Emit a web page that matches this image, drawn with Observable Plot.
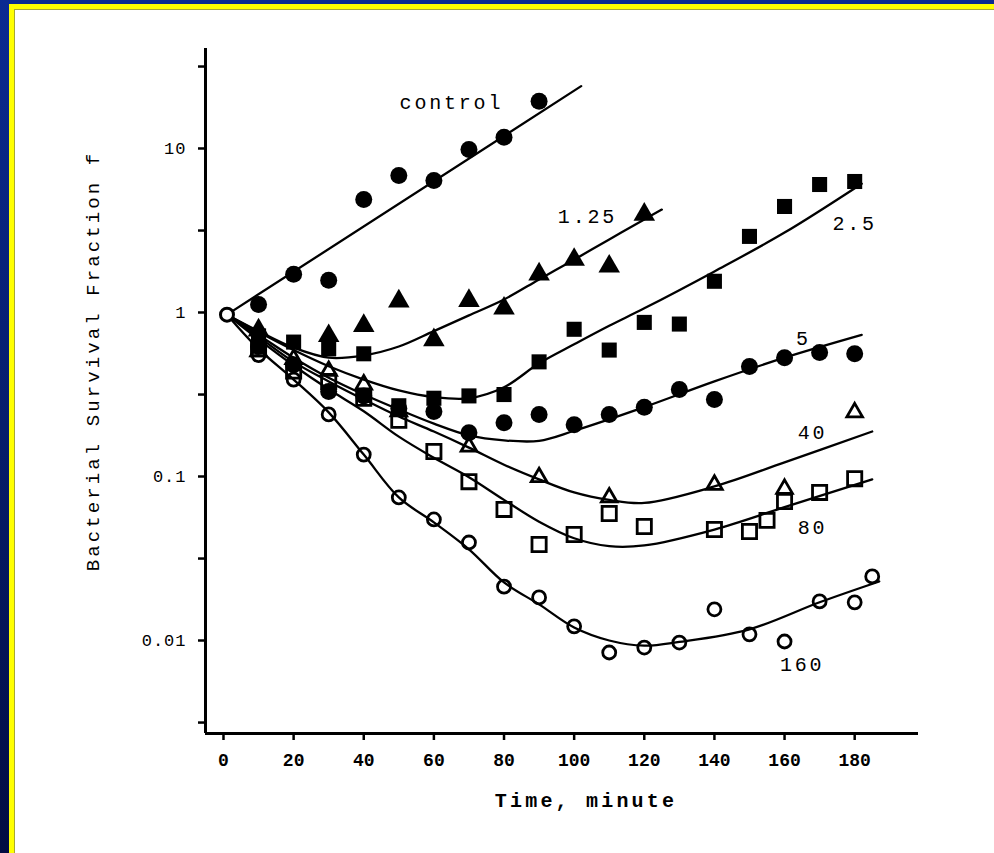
<!DOCTYPE html>
<html>
<head>
<meta charset="utf-8">
<script src="https://cdn.jsdelivr.net/npm/d3@7"></script>
<script src="https://cdn.jsdelivr.net/npm/@observablehq/plot@0.6"></script>
<style>
  html, body { margin: 0; padding: 0; background: #fff; width: 994px; height: 853px; overflow: hidden; }
  .band { position: absolute; }
  #chart { position: absolute; left: 0; top: 0; }
  g[aria-description="series-labels"] text { letter-spacing: 2.8px; }
  g[aria-description="y-title"] text { letter-spacing: 3.1px; }
  g[aria-description="x-title"] text { letter-spacing: 3.2px; }
  g[aria-label="y-axis tick label"] text { letter-spacing: 1px; }
</style>
</head>
<body>
<div class="band" style="left:0;top:0;width:994px;height:4px;background:#0b2a90"></div>
<div class="band" style="left:0;top:0;width:9px;height:853px;background:linear-gradient(#0b2a92,#061d6c 50%,#020c42)"></div>
<div class="band" style="left:9px;top:4px;width:985px;height:5px;background:#ffff00"></div>
<div class="band" style="left:9px;top:4px;width:5px;height:849px;background:#ffff00"></div>
<div class="band" style="left:14px;top:9px;width:980px;height:1px;background:#a8a830"></div>
<div class="band" style="left:14px;top:9px;width:1px;height:844px;background:#a8a830"></div>
<div id="chart"></div>
<script>
// ---- data (time in minutes, survival fraction f) ----
const seriesNames = ["control", "1.25", "2.5", "5", "40", "80", "160"];
const startPoint = [[1, 0.97]];

const controlPts = [[10,1.12],[20,1.71],[30,1.57],[40,4.89],[50,6.84],[60,6.38],[70,9.86],[80,11.7],[90,19.4]];
const p125Pts = [[10,0.78],[30,0.72],[40,0.83],[50,1.17],[60,0.68],[70,1.18],[80,1.06],[90,1.71],[100,2.10],[110,1.91],[120,3.96]];
const p25Pts = [[10,0.72],[20,0.66],[30,0.6],[40,0.56],[50,0.27],[60,0.30],[70,0.31],[80,0.316],[90,0.50],[100,0.79],[110,0.59],[120,0.87],[130,0.85],[140,1.55],[150,2.91],[160,4.43],[170,6.03],[180,6.29]];
const p5Pts = [[10,0.62],[20,0.48],[30,0.33],[40,0.31],[50,0.26],[60,0.249],[70,0.185],[80,0.213],[90,0.239],[100,0.207],[110,0.239],[120,0.264],[130,0.339],[140,0.295],[150,0.469],[160,0.53],[170,0.57],[180,0.56]];
const p40Pts = [[10,0.58],[20,0.52],[30,0.44],[40,0.364],[50,0.25],[70,0.152],[90,0.099],[110,0.0745],[140,0.089],[160,0.084],[180,0.246]];
const p80Pts = [[10,0.6],[20,0.44],[30,0.38],[40,0.30],[50,0.22],[60,0.142],[70,0.093],[80,0.063],[90,0.0385],[100,0.0443],[110,0.0595],[120,0.0496],[140,0.0475],[150,0.0462],[155,0.054],[160,0.0704],[170,0.080],[180,0.097]];
const p160Pts = [[10,0.55],[20,0.39],[30,0.239],[40,0.136],[50,0.0745],[60,0.0547],[70,0.0396],[80,0.0213],[90,0.0183],[100,0.0122],[110,0.00845],[120,0.00906],[130,0.00972],[140,0.0155],[150,0.0109],[160,0.00986],[170,0.0173],[180,0.0171],[185,0.0246]];

const controlCurve = [[1,0.97],[102,24]];
const c125Curve = [[1,0.97],[10,0.77],[20,0.61],[30,0.53],[40,0.547],[50,0.62],[60,0.77],[70,0.96],[80,1.2],[90,1.59],[100,2.1],[110,2.79],[120,3.69],[125,4.24]];
const c25Curve = [[1,0.97],[10,0.76],[20,0.59],[30,0.47],[40,0.39],[50,0.335],[60,0.305],[70,0.30],[80,0.35],[90,0.49],[100,0.64],[110,0.83],[120,1.06],[140,1.78],[160,3.07],[182,6.1]];
const c5Curve = [[1,0.97],[10,0.73],[20,0.53],[30,0.40],[40,0.316],[50,0.256],[60,0.21],[70,0.178],[80,0.166],[90,0.165],[100,0.19],[120,0.265],[140,0.38],[160,0.53],[182,0.73]];
const c40Curve = [[1,0.97],[10,0.71],[20,0.50],[30,0.38],[40,0.295],[50,0.232],[60,0.188],[70,0.150],[80,0.118],[90,0.096],[100,0.080],[110,0.072],[120,0.069],[140,0.087],[160,0.122],[185,0.188]];
const c80Curve = [[1,0.97],[10,0.685],[20,0.475],[30,0.34],[40,0.25],[50,0.175],[60,0.13],[70,0.099],[80,0.072],[90,0.053],[100,0.042],[110,0.0376],[120,0.038],[140,0.0475],[160,0.065],[185,0.096]];
const c160Curve = [[1,0.97],[10,0.6],[20,0.39],[30,0.246],[40,0.136],[50,0.0745],[60,0.0525],[70,0.036],[80,0.0226],[90,0.0166],[100,0.012],[110,0.01],[120,0.0093],[130,0.0098],[150,0.0117],[170,0.0171],[187,0.0229]];

const labelTexts = ["control", "1.25", "2.5", "5", "40", "80", "160"];
const labelT = [65, 103.8, 180, 165.4, 168, 168, 165];
const labelF = [19.1, 3.85, 3.49, 0.694, 0.185, 0.0489, 0.00714];

const xTicks = [0, 20, 40, 60, 80, 100, 120, 140, 160, 180];
const yTicks = [0.00316, 0.01, 0.0316, 0.1, 0.316, 1, 3.16, 10, 31.6];
const yTickLabels = ["", "0.01", "", "0.1", "", "1", "", "10", ""];
const xTitle = "Time, minute";
const yTitle = "Bacterial Survival Fraction f";

// ---- build tables ----
const pointSets = [controlPts, p125Pts, p25Pts, p5Pts, p40Pts, p80Pts, p160Pts];
const curveSets = [controlCurve, c125Curve, c25Curve, c5Curve, c40Curve, c80Curve, c160Curve];
const rows = (sets) => sets.flatMap((s, i) => s.map(([t, f]) => ({series: seriesNames[i], t, f})));
const pts = rows(pointSets);
const curves = rows(curveSets);
const labels = labelTexts.map((text, i) => ({text, t: labelT[i], f: labelF[i]}));
const of = (name) => pts.filter(d => d.series === name);

const xDomain = [-5.13, 198.2];
const yDomain = [0.00271, 40.7];
const FONT = "'Liberation Mono', 'DejaVu Sans Mono', monospace";

const chart = Plot.plot({
  width: 994,
  height: 853,
  marginLeft: 205,
  marginRight: 76,
  marginTop: 48,
  marginBottom: 120,
  style: {background: "transparent", fontFamily: FONT, color: "black", overflow: "visible"},
  x: {domain: xDomain, label: null},
  y: {type: "log", domain: yDomain, label: null},
  marks: [
    Plot.ruleX([xDomain[0]], {stroke: "black", strokeWidth: 3}),
    Plot.ruleY([yDomain[0]], {stroke: "black", strokeWidth: 3}),
    Plot.axisY({ticks: yTicks, tickFormat: (d) => yTickLabels[yTicks.indexOf(d)], tickSize: 7, tickPadding: 12,
      fontSize: 17, strokeWidth: 2.5, label: null, anchor: "left"}),
    Plot.axisX({ticks: xTicks, tickSize: 7, tickPadding: 13, fontSize: 18, fontWeight: "bold",
      strokeWidth: 2.5, label: null, anchor: "bottom"}),
    Plot.line(curves, {x: "t", y: "f", z: "series", curve: "catmull-rom", stroke: "black", strokeWidth: 2.3}),
    Plot.dot(of("control"), {x: "t", y: "f", symbol: "circle", r: 8.5, fill: "black"}),
    Plot.dot(of("5"), {x: "t", y: "f", symbol: "circle", r: 8.5, fill: "black"}),
    Plot.dot(of("1.25"), {x: "t", y: "f", symbol: "triangle", r: 8, fill: "black"}),
    Plot.dot(of("2.5"), {x: "t", y: "f", symbol: "square", r: 8.5, fill: "black"}),
    Plot.dot(of("40"), {x: "t", y: "f", symbol: "triangle", r: 5.8, fill: "none", stroke: "black", strokeWidth: 2.8}),
    Plot.dot(of("80"), {x: "t", y: "f", symbol: "square", r: 8, fill: "none", stroke: "black", strokeWidth: 2.8}),
    Plot.dot(of("160"), {x: "t", y: "f", symbol: "circle", r: 6.5, fill: "none", stroke: "black", strokeWidth: 2.8}),
    Plot.dot(startPoint, {x: d => d[0], y: d => d[1], symbol: "circle", r: 6.5, fill: "white", stroke: "black", strokeWidth: 3}),
    Plot.text(labels, {x: "t", y: "f", text: "text", fontSize: 20, fontFamily: FONT, textAnchor: "middle",
      fill: "black", ariaDescription: "series-labels"}),
    Plot.text([xTitle], {frameAnchor: "bottom", dx: 24, dy: 73, fontSize: 20, fontWeight: "bold",
      fontFamily: FONT, fill: "black", textAnchor: "middle", ariaDescription: "x-title"}),
    Plot.text([yTitle], {frameAnchor: "left", dx: -113, dy: -30, rotate: -90, fontSize: 19,
      fontFamily: FONT, fill: "black", textAnchor: "middle", ariaDescription: "y-title"})
  ]
});
document.getElementById("chart").appendChild(chart);
</script>
</body>
</html>
